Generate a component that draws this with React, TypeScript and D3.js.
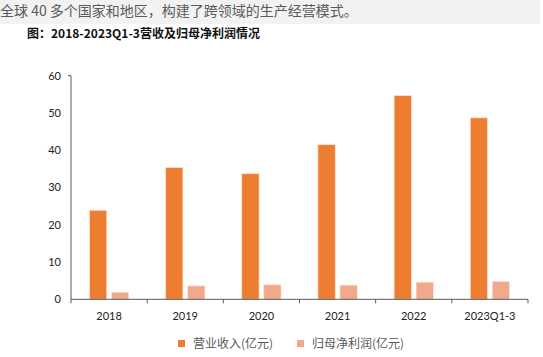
import React from "react";
import * as d3 from "d3";

const categories = ["2018", "2019", "2020", "2021", "2022", "2023Q1-3"];
const revenue = [23.9, 35.4, 33.7, 41.5, 54.7, 48.7];
const netProfit = [1.9, 3.6, 3.9, 3.8, 4.6, 4.8];
const seriesNames = ["营业收入(亿元)", "归母净利润(亿元)"];
const yTicks = [0, 10, 20, 30, 40, 50, 60];

const W = 543;
const H = 357;
const COLORS = ["#ED7D31", "#F2A98B"];
const CJK = "'Noto Sans CJK SC', 'Noto Sans', sans-serif";
const NUM = "Lato, 'Open Sans', sans-serif";

export default function App() {
  const x = d3.scaleBand<string>().domain(categories).range([71, 528]).padding(0);
  const y = d3.scaleLinear().domain([0, 60]).range([299.3, 75.7]);
  const sub = d3
    .scaleBand<string>()
    .domain(["rev", "np"])
    .range([0, x.bandwidth()])
    .paddingInner(0.21)
    .paddingOuter(0.836);

  const series = [revenue, netProfit];
  const keys = ["rev", "np"];
  const axisColor = "#595959";
  const boundaries = categories.map((c) => x(c)!).concat([528]);

  return (
    <svg
      width={W}
      height={H}
      style={{ position: "absolute", left: 0, top: 0, background: "#fff" }}
    >
      <rect x={0} y={0} width={540} height={24} fill="#f2f2f2" />
      <text x={0} y={16} fontSize={14} fill="#5a5a5a" fontFamily={CJK}>
        全球 40 多个国家和地区，构建了跨领域的生产经营模式。
      </text>
      <text x={27} y={38} fontSize={12} fontWeight="bold" fill="#111" fontFamily={CJK}>
        图：2018-2023Q1-3营收及归母净利润情况
      </text>

      {series.map((vals, si) =>
        vals.map((v, i) => (
          <rect
            key={`${si}-${i}`}
            x={x(categories[i])! + sub(keys[si])!}
            y={y(v)}
            width={sub.bandwidth()}
            height={y(0) - y(v)}
            fill={COLORS[si]}
            stroke="#fde3d3"
            strokeWidth={0.8}
          />
        ))
      )}

      {/* y axis */}
      <line x1={71} x2={71} y1={y(60)} y2={y(0)} stroke={axisColor} strokeWidth={1} />
      <line x1={68} x2={71} y1={y(60)} y2={y(60)} stroke={axisColor} strokeWidth={1} />
      {yTicks.map((t) => (
        <text
          key={t}
          x={61}
          y={y(t)}
          dy="0.35em"
          textAnchor="end"
          fontSize={11}
          fill="#222"
          fontFamily={NUM}
        >
          {t}
        </text>
      ))}

      {/* x axis */}
      <line x1={71} x2={528} y1={y(0)} y2={y(0)} stroke={axisColor} strokeWidth={1} />
      {boundaries.map((b, i) => (
        <line key={i} x1={b} x2={b} y1={y(0)} y2={y(0) + 4} stroke={axisColor} strokeWidth={1} />
      ))}
      {categories.map((c) => (
        <text
          key={c}
          x={x(c)! + x.bandwidth() / 2}
          y={320}
          textAnchor="middle"
          fontSize={11}
          fill="#222"
          fontFamily={NUM}
        >
          {c}
        </text>
      ))}

      {/* legend */}
      {seriesNames.map((n, i) => {
        const lx = i === 0 ? 178 : 297;
        return (
          <g key={n}>
            <rect x={lx} y={340} width={7} height={7} fill={COLORS[i]} />
            <text x={lx + 15} y={347.5} fontSize={12} fill="#595959" fontFamily={CJK}>
              {n}
            </text>
          </g>
        );
      })}
    </svg>
  );
}
